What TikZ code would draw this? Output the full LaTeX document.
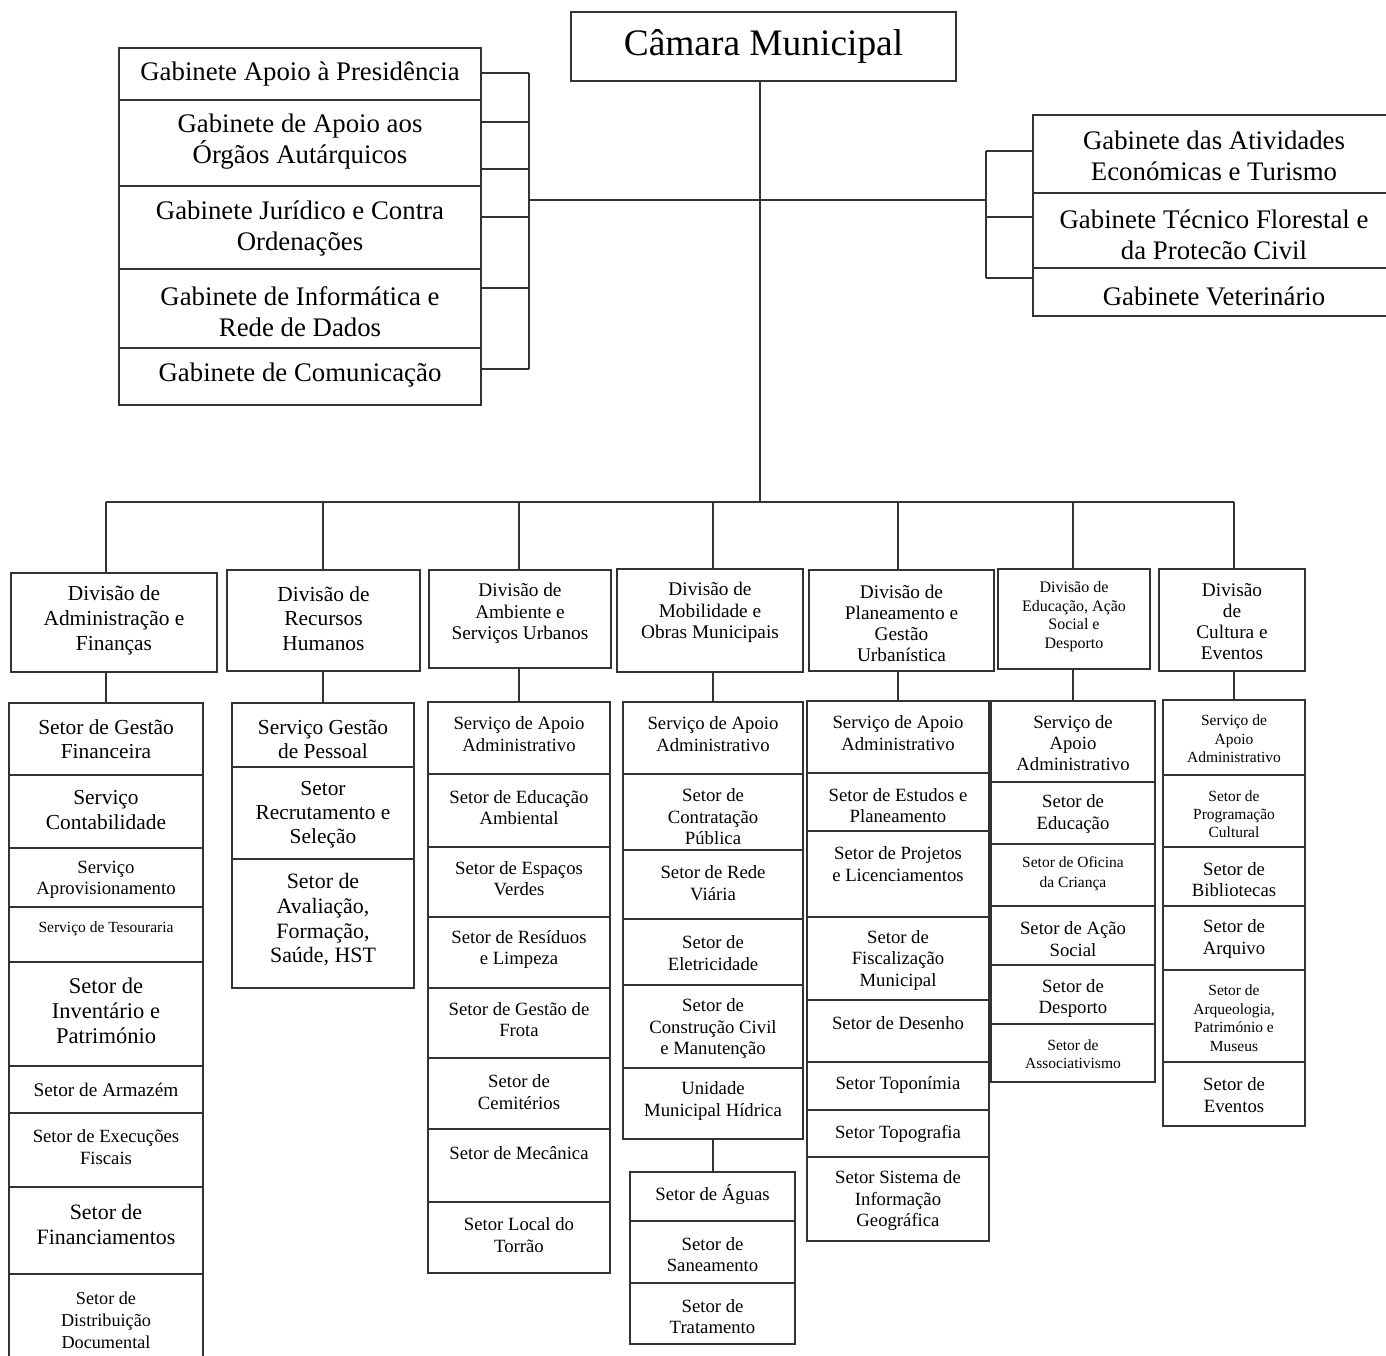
\documentclass[tikz,border=0pt]{standalone}
\usepackage{fontspec}
\setmainfont{Liberation Serif}
\usepackage{tikz}

\newcommand{\fsz}[2]{\fontsize{#1}{#2}\selectfont}

\tikzset{
  orgBox/.style={draw=orgLine, line width=1.8pt, inner sep=0pt, outer sep=0pt},
  orgText/.style={align=center, inner sep=0pt, text=black, font=\fsz{18.7}{21.5}},
  orgLink/.style={draw=orgLine, line width=1.8pt},
  gabFont/.style={font=\fsz{26.8}{31}},
  bigFont/.style={font=\fsz{21.4}{24.5}},
  smallFont/.style={font=\fsz{15.5}{18.5}},
}

% box from (x1,y1) to (x2,y2) in pixel units, text centred (shift with yshift)
\newcommand{\orgCell}[7][]{%
  \node[orgBox, minimum width={(#4-#3)*1pt}, minimum height={(#6-#5)*1pt}] (#2) at ({(#3+#4)/2},{(#5+#6)/2}) {};
  \node[orgText,#1] (#2-t) at (#2.center) {#7};
}

\begin{document}
\begin{tikzpicture}[x=1pt,y=-1pt]
\definecolor{orgLine}{HTML}{333333}
\useasboundingbox (0,0) rectangle (1386,1356);

% top
\orgCell[font=\fsz{37.4}{40}]{cam}{571}{956}{12}{81}{Câmara Municipal}

% gabinetes, left
\orgCell[gabFont]{gPres}{119}{481}{48}{100}{Gabinete Apoio à Presidência}
\orgCell[gabFont,yshift=1.5]{gOrg}{119}{481}{100}{186}{Gabinete de Apoio aos\\Órgãos Autárquicos}
\orgCell[gabFont,yshift=-1.5]{gJur}{119}{481}{186}{269}{Gabinete Jurídico e Contra\\Ordenações}
\orgCell[gabFont,yshift=-3]{gInf}{119}{481}{269}{348}{Gabinete de Informática e\\Rede de Dados}
\orgCell[gabFont,yshift=1.5]{gCom}{119}{481}{348}{405}{Gabinete de Comunicação}

% gabinetes, right
\orgCell[gabFont,yshift=-2]{gEcon}{1033}{1395}{115}{193}{Gabinete das Atividades\\Económicas e Turismo}
\orgCell[gabFont,yshift=-4]{gFlor}{1033}{1395}{193}{268}{Gabinete Técnico Florestal e\\da Protecão Civil}
\orgCell[gabFont,yshift=-4]{gVet}{1033}{1395}{268}{316}{Gabinete Veterinário}

% divisoes
\orgCell[font=\fsz{21.4}{25},yshift=2]{dAdm}{11}{217}{573}{672}{Divisão de\\Administração e\\Finanças}
\orgCell[bigFont,yshift=2]{dRH}{227}{420}{570}{671}{Divisão de\\Recursos\\Humanos}
\orgCell[font=\fsz{19.3}{21.5},yshift=5.5]{dAmb}{429}{611}{570}{668}{Divisão de\\Ambiente e\\Serviços Urbanos}
\orgCell[font=\fsz{19.3}{21.5},yshift=8]{dMob}{617}{803}{569}{672}{Divisão de\\Mobilidade e\\Obras Municipais}
\orgCell[font=\fsz{19.3}{21},yshift=-2.5]{dPlan}{809}{994}{570}{671}{Divisão de\\Planeamento e\\Gestão\\Urbanística}
\orgCell[font=\fsz{16}{18.5},yshift=2.5]{dEdu}{998}{1150}{569}{669}{Divisão de\\Educação, Ação\\Social e\\Desporto}
\orgCell[font=\fsz{19.3}{21},yshift=-2]{dCul}{1159}{1305}{569}{671}{Divisão\\de\\Cultura e\\Eventos}

% administracao e financas
\orgCell[font=\fsz{21.4}{24}]{aGF}{9}{203}{703}{775}{Setor de Gestão\\Financeira}
\orgCell[font=\fsz{21.4}{25},yshift=1]{aCont}{9}{203}{775}{848}{Serviço\\Contabilidade}
\orgCell[font=\fsz{18.7}{21},yshift=-2]{aAprov}{9}{203}{848}{907}{Serviço\\Aprovisionamento}
\orgCell[smallFont,yshift=5.5]{aTes}{9}{203}{907}{962}{Serviço de Tesouraria}
\orgCell[font=\fsz{22.5}{25},yshift=3]{aInv}{9}{203}{962}{1066}{Setor de\\Inventário e\\Património}
\orgCell[font=\fsz{19.3}{22}]{aArm}{9}{203}{1066}{1113}{Setor de Armazém}
\orgCell[font=\fsz{18.7}{22},yshift=3]{aExec}{9}{203}{1113}{1187}{Setor de Execuções\\Fiscais}
\orgCell[font=\fsz{21.9}{25},yshift=6]{aFin}{9}{203}{1187}{1274}{Setor de\\Financiamentos}
\orgCell[font=\fsz{18.2}{22}]{aDist}{9}{203}{1274}{1366}{Setor de\\Distribuição\\Documental}

% recursos humanos
\orgCell[font=\fsz{21.4}{24},yshift=-4]{bGP}{232}{414}{703}{767}{Serviço Gestão\\de Pessoal}
\orgCell[font=\fsz{21.4}{24},yshift=-2]{bRec}{232}{414}{767}{859}{Setor\\Recrutamento e\\Seleção}
\orgCell[font=\fsz{21.9}{24.7},yshift=3.5]{bAval}{232}{414}{859}{988}{Setor de\\Avaliação,\\Formação,\\Saúde, HST}

% ambiente e servicos urbanos
\orgCell[yshift=4]{cApoio}{428}{610}{702}{774}{Serviço de Apoio\\Administrativo}
\orgCell[yshift=3]{cEdAmb}{428}{610}{774}{847}{Setor de Educação\\Ambiental}
\orgCell[yshift=3.5]{cEsp}{428}{610}{847}{917}{Setor de Espaços\\Verdes}
\orgCell[yshift=3]{cRes}{428}{610}{917}{988}{Setor de Resíduos\\e Limpeza}
\orgCell[yshift=3.5]{cFrota}{428}{610}{988}{1058}{Setor de Gestão de\\Frota}
\orgCell[yshift=1.5]{cCem}{428}{610}{1058}{1129}{Setor de\\Cemitérios}
\orgCell[yshift=12.5]{cMec}{428}{610}{1129}{1202}{Setor de Mecânica}
\orgCell[yshift=2.5]{cTorr}{428}{610}{1202}{1273}{Setor Local do\\Torrão}

% mobilidade e obras municipais
\orgCell[yshift=4]{mApoio}{623}{803}{702}{774}{Serviço de Apoio\\Administrativo}
\orgCell[yshift=-5]{mContr}{623}{803}{774}{850}{Setor de\\Contratação\\Pública}
\orgCell[yshift=1.5]{mRede}{623}{803}{850}{919}{Setor de Rede\\Viária}
\orgCell[yshift=-1]{mElet}{623}{803}{919}{985}{Setor de\\Eletricidade}
\orgCell[yshift=-2]{mConst}{623}{803}{985}{1068}{Setor de\\Construção Civil\\e Manutenção}
\orgCell[yshift=2.5]{mUni}{623}{803}{1068}{1139}{Unidade\\Municipal Hídrica}
\orgCell[yshift=2.5]{mAgu}{630}{795}{1172}{1221}{Setor de Águas}
\orgCell[yshift=-2.5]{mSan}{630}{795}{1221}{1283}{Setor de\\Saneamento}
\orgCell[yshift=-3]{mTrat}{630}{795}{1283}{1344}{Setor de\\Tratamento}

% planeamento e gestao urbanistica
\orgCell[yshift=4]{pApoio}{807}{989}{701}{773}{Serviço de Apoio\\Administrativo}
\orgCell[yshift=-3.5]{pEst}{807}{989}{773}{831}{Setor de Estudos e\\Planeamento}
\orgCell[yshift=10]{pProj}{807}{989}{831}{917}{Setor de Projetos\\e Licenciamentos}
\orgCell[yshift=-1.5]{pFisc}{807}{989}{917}{1000}{Setor de\\Fiscalização\\Municipal}
\orgCell[yshift=8]{pDes}{807}{989}{1000}{1062}{Setor de Desenho}
\orgCell[yshift=1]{pTopon}{807}{989}{1062}{1110}{Setor Toponímia}
\orgCell{pTopog}{807}{989}{1110}{1157}{Setor Topografia}
\orgCell[yshift=-2]{pSIG}{807}{989}{1157}{1241}{Setor Sistema de\\Informação\\Geográfica}

% educacao, acao social e desporto
\orgCell[font=\fsz{18.7}{21},yshift=-1.5]{eApoio}{991}{1155}{701}{782}{Serviço de\\Apoio\\Administrativo}
\orgCell[font=\fsz{18.7}{22},yshift=-1]{eEdu}{991}{1155}{782}{844}{Setor de\\Educação}
\orgCell[font=\fsz{15.5}{20},yshift=1]{eOfic}{991}{1155}{844}{906}{Setor de Oficina\\da Criança}
\orgCell[font=\fsz{18.7}{22},yshift=-3.5]{eAcao}{991}{1155}{906}{965}{Setor de Ação\\Social}
\orgCell[font=\fsz{18.7}{21},yshift=-4]{eDesp}{991}{1155}{965}{1024}{Setor de\\Desporto}
\orgCell[font=\fsz{15.5}{18},yshift=-1]{eAssoc}{991}{1155}{1024}{1082}{Setor de\\Associativismo}

% cultura e eventos
\orgCell[smallFont,yshift=-1.5]{kApoio}{1163}{1305}{700}{775}{Serviço de\\Apoio\\Administrativo}
\orgCell[font=\fsz{15.5}{18},yshift=-3]{kProg}{1163}{1305}{775}{847}{Setor de\\Programação\\Cultural}
\orgCell[font=\fsz{18.7}{21},yshift=-3]{kBibl}{1163}{1305}{847}{906}{Setor de\\Bibliotecas}
\orgCell[font=\fsz{18.7}{22},yshift=-1]{kArq}{1163}{1305}{906}{970}{Setor de\\Arquivo}
\orgCell[smallFont,yshift=-2]{kArqueo}{1163}{1305}{970}{1062}{Setor de\\Arqueologia,\\Património e\\Museus}
\orgCell[font=\fsz{18.7}{22},yshift=-1]{kEv}{1163}{1305}{1062}{1126}{Setor de\\Eventos}

% ligacoes
\coordinate (busY) at (0,502);
\coordinate (lBr) at (529,200);
\coordinate (rBr) at (986,200);
\draw[orgLink] ([xshift=-3.5]cam.south) -- ([xshift=-3.5]cam.south |- busY);
\draw[orgLink] (lBr) -- (rBr);
\foreach \nv/\dy in {gPres/1,gOrg/21,gOrg/-26,gJur/10.5,gInf/20.5,gCom/7.5}
  \draw[orgLink] ([yshift=\dy]\nv.east) -- ([yshift=\dy]\nv.east -| lBr);
\draw[orgLink] ([yshift=1]gPres.east -| lBr) -- ([yshift=7.5]gCom.east -| lBr);
\foreach \nv/\dy in {gEcon/3,gFlor/13.5,gVet/14}
  \draw[orgLink] ([yshift=\dy]\nv.west) -- ([yshift=\dy]\nv.west -| rBr);
\draw[orgLink] ([yshift=3]gEcon.west -| rBr) -- ([yshift=14]gVet.west -| rBr);

\draw[orgLink] (aGF.north |- busY) -- (kApoio.north |- busY);
\foreach \dv/\cv in {dAdm/aGF,dRH/bGP,dAmb/cApoio,dMob/mApoio,dPlan/pApoio,dEdu/eApoio,dCul/kApoio} {
  \draw[orgLink] (\cv.north |- busY) -- (\cv.north |- \dv.north);
  \draw[orgLink] (\cv.north |- \dv.south) -- (\cv.north);
}
\draw[orgLink] (mUni.south) -- (mUni.south |- mAgu.north);
\end{tikzpicture}
\end{document}
